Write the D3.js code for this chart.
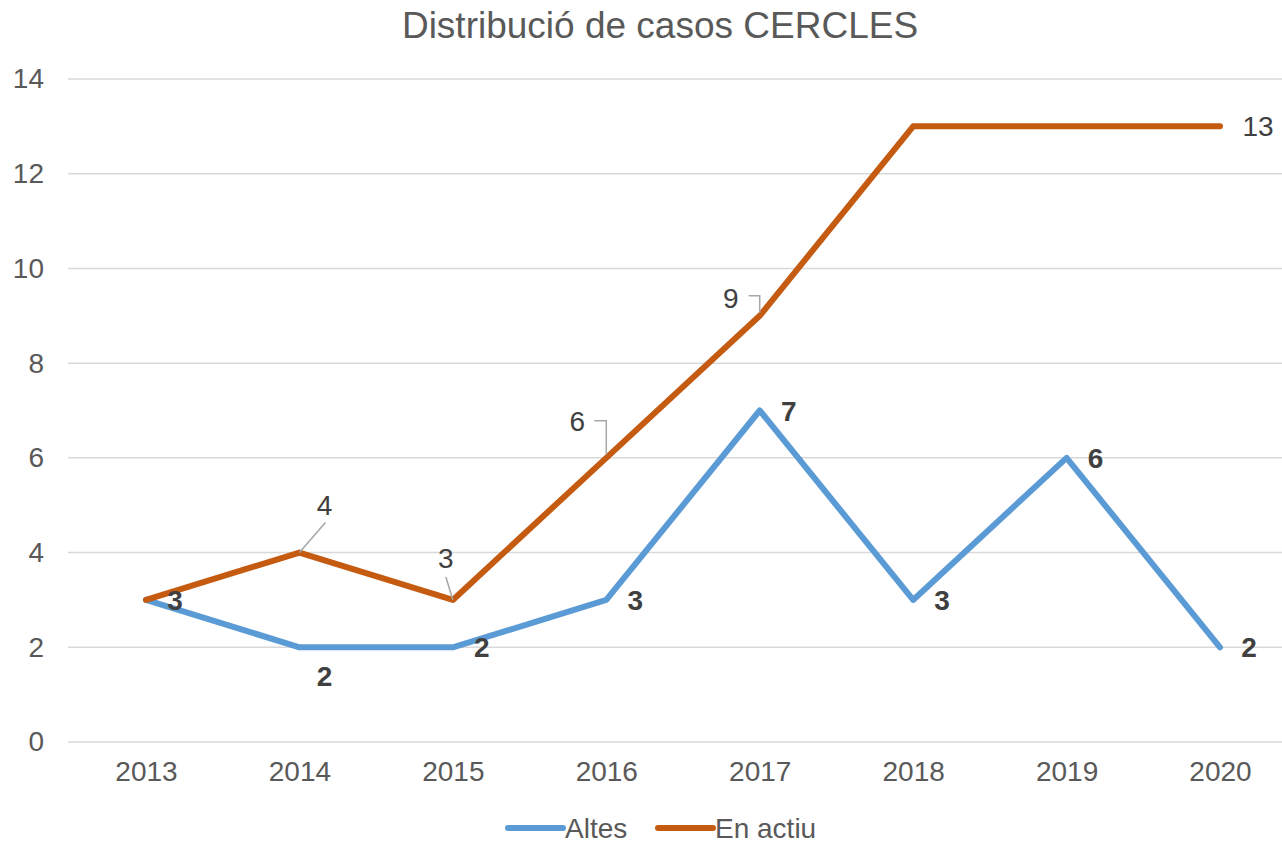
<html>
<head>
<style>
  body { margin: 0; background: white; }
  text { font-family: "Liberation Sans", Arial, sans-serif; }
</style>
</head>
<body>
<svg id="svg" width="1282" height="844"></svg>
<script src="https://cdn.jsdelivr.net/npm/d3@7"></script>
<script>

var years = ["2013", "2014", "2015", "2016", "2017", "2018", "2019", "2020"];
var altes = [3, 2, 2, 3, 7, 3, 6, 2];
var enActiu = [3, 4, 3, 6, 9, 13, 13, 13];
var yTicks = [0, 2, 4, 6, 8, 10, 12, 14];
var seriesNames = ["Altes", "En actiu"];

var W = 1282, H = 844;
var x = d3.scalePoint().domain(years).range([146, 1220]);
var y = d3.scaleLinear().domain([0, 14]).range([742, 79]);

var svg = d3.select("#svg");

// title
svg.append("text")
  .attr("x", 660).attr("y", 38)
  .attr("text-anchor", "middle")
  .attr("font-size", 37)
  .style("fill", "#595959")
  .text("Distribució de casos CERCLES");

// gridlines
svg.append("g").selectAll("line").data(yTicks).join("line")
  .attr("x1", 68).attr("x2", W)
  .attr("y1", d => y(d)).attr("y2", d => y(d))
  .style("stroke", "#d9d9d9").style("stroke-width", 1.5);

// y axis labels
var yAxis = d3.axisLeft(y).tickValues(yTicks).tickSize(0).tickPadding(0);
svg.append("g").attr("transform", "translate(44,0)")
  .call(yAxis)
  .call(g => g.select(".domain").remove())
  .call(g => g.selectAll("text")
    .attr("font-size", 28).attr("font-family", "Liberation Sans, Arial, sans-serif")
    .attr("text-anchor", "end")
    .style("fill", "#595959"));

// x axis labels
var xAxis = d3.axisBottom(x).tickSize(0).tickPadding(0);
svg.append("g").attr("transform", "translate(0,757)")
  .call(xAxis)
  .call(g => g.select(".domain").remove())
  .call(g => g.selectAll("text")
    .attr("font-size", 28).attr("font-family", "Liberation Sans, Arial, sans-serif")
    .attr("dy", "0.85em")
    .style("fill", "#595959"));

var line = d3.line().x((d, i) => x(years[i])).y(d => y(d));

svg.append("path").datum(altes)
  .attr("d", line)
  .style("fill", "none").style("stroke", "#5b9bd5")
  .style("stroke-width", 6).style("stroke-linejoin", "round").style("stroke-linecap", "round");

svg.append("path").datum(enActiu)
  .attr("d", line)
  .style("fill", "none").style("stroke", "#c55a11")
  .style("stroke-width", 6).style("stroke-linejoin", "round").style("stroke-linecap", "round");

// Altes labels (bold), placed right of point except 2014 which sits below
var altesPos = ["r", "b", "r", "r", "r", "r", "r", "r"];
svg.append("g").selectAll("text").data(altes).join("text")
  .attr("x", (d, i) => x(years[i]) + (altesPos[i] == "b" ? 25 : 29))
  .attr("y", (d, i) => y(d) + (altesPos[i] == "b" ? 29 : 0))
  .attr("dy", "0.36em")
  .attr("text-anchor", "middle")
  .attr("font-size", 28).attr("font-weight", "bold")
  .style("fill", "#404040")
  .text(d => d);

// En actiu labels with leader lines: [dx, dy] of label centre, leader path
var actiuLabel = [
  null,
  {dx: 25, dy: -48, leader: [[0, 0], [26, -30]]},
  {dx: -7, dy: -42, leader: [[0, 0], [-7, -23]]},
  {dx: -29, dy: -37, leader: [[0, -3], [0, -37], [-12, -37]]},
  {dx: -29, dy: -18, leader: [[0, -3], [0, -20], [-11, -20]]},
  null,
  null,
  {dx: 38, dy: 0, leader: null}
];
var actiuData = enActiu.map((v, i) => ({v: v, i: i, lab: actiuLabel[i]})).filter(d => d.lab);

var lg = svg.append("g");
lg.selectAll("path").data(actiuData.filter(d => d.lab.leader)).join("path")
  .attr("d", d => d3.line()(d.lab.leader.map(p => [x(years[d.i]) + p[0], y(d.v) + p[1]])))
  .style("fill", "none").style("stroke", "#a6a6a6").style("stroke-width", 1.5);

lg.selectAll("text").data(actiuData).join("text")
  .attr("x", d => x(years[d.i]) + d.lab.dx)
  .attr("y", d => y(d.v) + d.lab.dy)
  .attr("dy", "0.36em")
  .attr("text-anchor", "middle")
  .attr("font-size", 28)
  .style("fill", "#404040")
  .text(d => d.v);

// legend
var colors = ["#5b9bd5", "#c55a11"];
var legX = [508, 658];
var leg = svg.append("g").selectAll("g").data(seriesNames).join("g")
  .attr("transform", (d, i) => "translate(" + legX[i] + ",828)");
leg.append("line")
  .attr("x1", 0).attr("x2", 55)
  .style("stroke", (d, i) => colors[i]).style("stroke-width", 6)
  .style("stroke-linecap", "round");
leg.append("text")
  .attr("x", 57).attr("dy", "0.36em")
  .attr("font-size", 28)
  .style("fill", "#595959")
  .text(d => d);

</script>
</body>
</html>
